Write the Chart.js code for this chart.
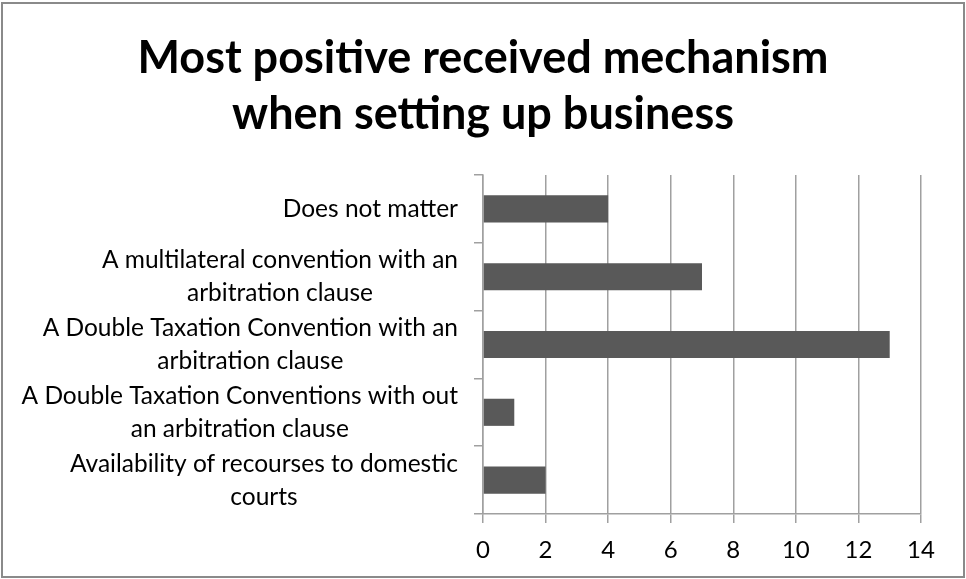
<!DOCTYPE html>
<html>
<head>
<meta charset="utf-8">
<script src="https://cdn.jsdelivr.net/npm/chart.js@4/dist/chart.umd.min.js"></script>
<style>
  html, body { margin: 0; padding: 0; background: #fff; }
  #wrap { width: 966px; height: 579px; position: relative; }
</style>
</head>
<body>
<div id="wrap"><canvas id="chart" width="966" height="579"></canvas></div>
<script>
// Survey answers, listed top to bottom
const categories = [
  ["Does not matter"],
  ["A multilateral convention with an", "arbitration clause"],
  ["A Double Taxation Convention with an", "arbitration clause"],
  ["A Double Taxation Conventions with out", "an arbitration clause"],
  ["Availability of recourses to domestic", "courts"]
];
const responses = [4, 7, 13, 1, 2];
const titleLines = ["Most positive received mechanism", "when setting up business"];
const axisMin = 0, axisMax = 14, axisStep = 2;

const FONT = "Lato, 'Open Sans', sans-serif";
const GRID = "#a0a0a0";
const LABEL_SIZE = 24.5;
const LABEL_LINE = 33;
const LABEL_GAP = 25; // space between label block and the axis line

// outer frame plus a title centred over the full canvas
const framePlugin = {
  id: "frame",
  afterDraw(chart) {
    const c = chart.ctx;
    c.save();
    c.strokeStyle = "#8a8a8a";
    c.lineWidth = 2;
    c.strokeRect(2, 3, chart.width - 4, chart.height - 5);

    c.fillStyle = "#000";
    c.font = "bold 45px " + FONT;
    c.textAlign = "center";
    c.textBaseline = "middle";
    titleLines.forEach((t, i) => c.fillText(t, chart.width / 2, 58 + i * 56));
    c.restore();
  }
};

// category labels: each block hugs the axis, its lines centred on one another
const categoryLabels = {
  id: "categoryLabels",
  afterDraw(chart) {
    const y = chart.scales.y;
    const c = chart.ctx;
    c.save();
    c.fillStyle = "#000";
    c.font = LABEL_SIZE + "px " + FONT;
    c.textAlign = "center";
    c.textBaseline = "middle";
    const right = y.right - LABEL_GAP;
    categories.forEach((lines, i) => {
      const w = Math.max(...lines.map(l => c.measureText(l).width));
      const cx = right - w / 2;
      const cy = y.getPixelForValue(i);
      const top = cy - (lines.length - 1) * LABEL_LINE / 2;
      lines.forEach((l, j) => c.fillText(l, cx, top + j * LABEL_LINE));
    });
    c.restore();
  }
};

new Chart(document.getElementById("chart"), {
  type: "bar",
  data: {
    labels: categories,
    datasets: [{
      data: responses,
      backgroundColor: "#595959",
      borderWidth: 0,
      barPercentage: 0.4,
      categoryPercentage: 1
    }]
  },
  options: {
    indexAxis: "y",
    responsive: false,
    animation: false,
    layout: { padding: { left: 0, right: 45, top: 175, bottom: 0 } },
    plugins: {
      legend: { display: false },
      tooltip: { enabled: false },
      title: { display: false }
    },
    scales: {
      x: {
        min: axisMin,
        max: axisMax,
        ticks: { stepSize: axisStep, color: "#000", font: { family: FONT, size: 24 }, padding: 13 },
        grid: { color: GRID, lineWidth: 1.5, tickLength: 9, tickColor: GRID },
        border: { color: GRID, width: 1.5 },
        afterFit(scale) { scale.height = 65; }
      },
      y: {
        ticks: { display: false },
        grid: { drawOnChartArea: false, color: GRID, tickLength: 9, lineWidth: 1.5 },
        border: { color: GRID, width: 1.5 },
        afterFit(scale) { scale.width = 483; }
      }
    }
  },
  plugins: [framePlugin, categoryLabels]
});
</script>
</body>
</html>
